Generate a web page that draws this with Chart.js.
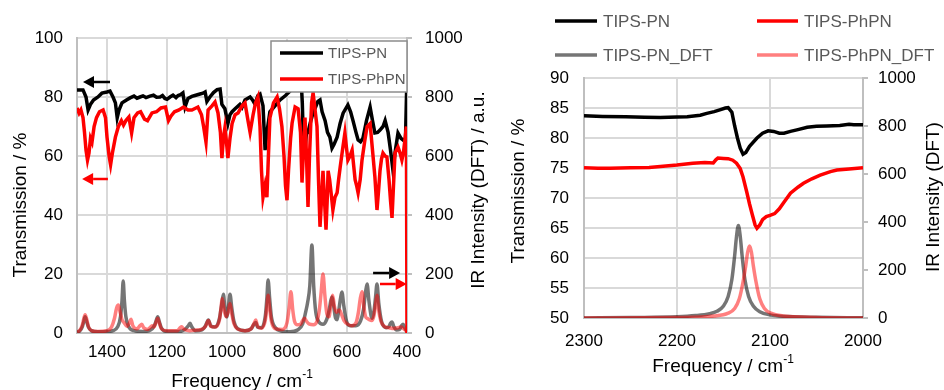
<!DOCTYPE html>
<html><head><meta charset="utf-8">
<script src="https://cdn.jsdelivr.net/npm/chart.js@4.4.0/dist/chart.umd.min.js"></script>
<style>
html,body{margin:0;padding:0;background:#fff;width:944px;height:390px;overflow:hidden}
canvas{position:absolute;top:0}
#c1{left:0}
#c2{left:490px}
</style></head><body>
<canvas id="c1" width="490" height="390"></canvas>
<canvas id="c2" width="454" height="390"></canvas>
<script>
// ---------- DATA ----------
const seriesNames = ['TIPS-PN', 'TIPS-PhPN', 'TIPS-PN_DFT', 'TIPS-PhPN_DFT'];
const leftXTicks = [1400, 1200, 1000, 800, 600, 400];
const rightXTicks = [2300, 2200, 2100, 2000];

// Left panel: experimental transmission (%), [frequency, value]
const pnLeft = [[1500,82.4],[1480,82.4],[1470,80],[1463,75.6],[1455,77.5],[1445,79],[1430,80],[1417,81.3],[1400,81.7],[1390,82],[1380,80],[1372,78],[1366,73],[1360,75.6],[1350,78],[1335,79],[1323,79.7],[1310,80.3],[1300,79.6],[1290,80],[1280,80.4],[1270,79.8],[1257,80.3],[1245,80.6],[1235,79.9],[1223,80],[1215,80.5],[1207,79.5],[1200,79.2],[1190,80],[1180,80.6],[1170,79.8],[1163,80.5],[1155,80.8],[1147,81.4],[1140,76.6],[1130,79.5],[1117,80.2],[1107,80.5],[1090,81],[1080,81.3],[1073,81.7],[1067,78.5],[1057,80],[1045,81.5],[1033,82.5],[1023,82.7],[1017,77.5],[1007,76],[997,71],[990,74],[983,75],[973,76],[957,77.5],[950,76.5],[940,79],[923,80],[915,79],[907,77.6],[897,80.5],[890,81],[880,77],[873,62],[867,68],[857,75],[840,77],[823,79],[805,80.5],[790,82],[767,85],[753,86],[749,78],[745,64],[740,62],[735,68],[730,68],[723,71],[715,74],[707,76],[697,78.5],[690,79],[683,75],[673,72],[665,68],[657,66.4],[650,62.7],[643,64],[633,66.4],[623,71],[613,74.5],[597,77.3],[588,75],[580,72],[570,68],[563,65.4],[555,64.8],[547,66],[535,72],[523,76.6],[515,72],[507,67.8],[498,68],[490,68.8],[480,70],[473,72],[463,68],[455,62],[447,55.3],[440,61],[430,67.8],[420,66],[413,65.4],[405,66],[400,88]];
const phpnLeft = [[1500,76.3],[1493,74.5],[1487,75.6],[1480,73],[1475,68],[1470,62],[1465,58.6],[1460,61],[1455,66],[1450,64.7],[1443,70],[1435,73],[1425,75],[1413,75.6],[1405,73],[1400,66.4],[1393,60],[1388,57],[1382,61],[1372,66.4],[1362,70],[1352,72],[1345,70.5],[1337,72],[1327,73.2],[1318,67.8],[1310,73],[1298,74.6],[1288,75],[1275,72.5],[1265,72],[1250,74.6],[1235,75],[1220,76.3],[1205,76.6],[1195,72],[1187,73.5],[1175,75],[1160,75.6],[1145,76.6],[1130,75.6],[1117,75.6],[1097,76.6],[1085,74],[1078,70],[1070,64.7],[1063,75.6],[1050,77],[1040,78.3],[1030,74.6],[1022,68],[1017,59.3],[1012,66],[1007,69.5],[1002,65],[997,59.3],[990,66],[983,71],[973,74],[963,74.6],[950,77],[940,78],[930,72],[923,68],[918,71],[913,74],[905,78],[897,80],[890,70],[885,55],[880,46],[873,50],[867,46],[862,60],[857,72.9],[845,78],[833,80],[825,76],[817,70],[810,60],[805,50],[800,45],[795,55],[788,66],[783,71.2],[773,76.6],[763,76],[755,68],[750,51],[745,62],[740,73],[735,60],[730,42.7],[725,60],[718,78],[713,81.4],[707,76],[700,70],[695,52],[690,36],[685,45],[680,55],[675,45],[670,35],[666,45],[663,55],[658,52],[653,47.5],[647,41.7],[640,46],[633,47.5],[628,52],[623,56],[615,62],[607,67.8],[602,63],[597,58.6],[590,60],[583,62],[578,57],[573,52],[568,50],[563,47.5],[556,52],[550,58.6],[541,65],[533,70],[523,71],[515,62],[507,52.9],[500,41.7],[495,48],[490,55],[485,59],[480,61],[473,60],[467,59.7],[460,52],[455,45],[450,39],[445,50],[440,61],[430,63],[423,61],[417,58.6],[412,61],[407,65.4],[402,70],[400,0]];

// Left panel: DFT IR intensity (a.u.), [frequency, value]
const pnDftLeft = [[1500,2],[1490,8],[1482,22],[1477,40],[1473,55],[1468,40],[1462,20],[1452,8],[1430,4],[1400,5],[1380,8],[1365,20],[1355,55],[1350,110],[1346,176],[1342,110],[1337,55],[1328,22],[1310,8],[1280,5],[1255,10],[1242,25],[1236,42],[1231,55],[1226,40],[1219,18],[1205,6],[1160,5],[1140,12],[1128,26],[1123,33],[1118,22],[1105,8],[1085,10],[1072,24],[1062,44],[1054,24],[1040,20],[1025,50],[1018,95],[1012,131],[1007,85],[1001,55],[995,90],[990,131],[984,85],[977,40],[965,15],[940,8],[920,14],[910,30],[904,36],[898,20],[885,18],[872,60],[867,120],[863,180],[858,120],[852,55],[840,20],[815,6],[790,4],[765,10],[748,30],[738,70],[731,105],[724,160],[717,298],[711,160],[704,70],[695,40],[680,30],[668,45],[660,75],[654,110],[650,122],[645,95],[638,50],[633,45],[627,80],[622,115],[617,139],[611,95],[603,45],[590,25],[570,25],[555,40],[545,80],[538,140],[533,166],[527,110],[520,60],[516,50],[510,75],[505,120],[500,166],[494,100],[485,40],[470,18],[460,22],[455,33],[450,37],[444,22],[435,10],[425,12],[418,25],[413,30],[408,18],[400,5]];
const phpnDftLeft = [[1500,3],[1490,10],[1482,28],[1477,50],[1473,62],[1468,48],[1462,22],[1452,8],[1430,5],[1400,8],[1385,20],[1375,50],[1368,85],[1362,95],[1356,70],[1350,45],[1343,35],[1333,22],[1325,35],[1320,47],[1314,25],[1300,14],[1290,25],[1284,30],[1278,18],[1265,12],[1255,20],[1250,25],[1244,20],[1236,38],[1231,50],[1226,35],[1219,15],[1200,8],[1165,8],[1156,18],[1151,21],[1145,14],[1125,8],[1100,10],[1085,12],[1072,22],[1062,42],[1054,22],[1040,20],[1025,45],[1020,85],[1016,117],[1010,80],[1003,55],[995,75],[990,100],[984,65],[977,32],[965,14],[940,8],[920,14],[910,32],[904,44],[898,22],[885,16],[872,45],[867,90],[863,128],[858,85],[852,40],[840,15],[815,12],[800,35],[793,85],[787,140],[781,80],[775,40],[765,28],[755,30],[748,42],[741,50],[735,40],[725,30],[712,28],[700,40],[692,80],[686,140],[680,200],[674,130],[667,65],[660,55],[654,95],[648,128],[642,90],[636,70],[630,75],[625,78],[619,65],[610,42],[598,30],[585,25],[570,35],[562,70],[556,115],[550,140],[544,90],[538,55],[533,50],[526,45],[518,42],[510,60],[505,95],[500,128],[494,75],[487,40],[475,22],[460,18],[445,15],[430,18],[420,20],[412,15],[400,5]];

// Right panel: experimental transmission (%)
const pnRight = [[2300,83.7],[2280,83.6],[2255,83.55],[2235,83.45],[2218,83.4],[2200,83.5],[2189,83.55],[2175,83.8],[2168,84.1],[2160,84.4],[2154,84.7],[2148,85],[2145,85.05],[2141,84.3],[2138,82],[2135,80],[2132,78.3],[2129,77.3],[2126,77.6],[2122,78.6],[2114,80],[2108,80.8],[2102,81.2],[2096,81.1],[2090,80.8],[2085,80.8],[2078,81.1],[2070,81.4],[2060,81.8],[2050,81.95],[2039,82],[2025,82.1],[2015,82.3],[2010,82.2],[2000,82.2]];
const phpnRight = [[2300,75.05],[2285,74.95],[2272,74.95],[2250,75.05],[2230,75.1],[2218,75.25],[2200,75.5],[2183,75.8],[2170,75.9],[2161,75.85],[2158,76.4],[2156,76.65],[2150,76.6],[2145,76.55],[2140,76.3],[2136,75.8],[2132,74.9],[2129,73.5],[2125,71],[2122,69],[2119,67.2],[2116,65.5],[2114,64.95],[2111,65.5],[2108,66.4],[2104,66.9],[2100,67.1],[2095,67.4],[2090,68.2],[2085,69.3],[2078,70.8],[2070,71.8],[2064,72.45],[2055,73.2],[2046,73.8],[2035,74.4],[2028,74.65],[2015,74.85],[2000,75.05]];
// Right panel: DFT IR intensity
const pnDftRight = [[2300,0],[2250,2],[2200,5],[2180,10],[2165,18],[2157,28],[2150,50],[2145,90],[2141,160],[2138,260],[2136,340],[2134,385],[2132,340],[2130,260],[2127,160],[2123,90],[2118,50],[2111,26],[2100,13],[2080,6],[2050,3],[2000,1]];
const phpnDftRight = [[2300,0],[2200,2],[2160,8],[2145,20],[2138,40],[2133,80],[2129,150],[2126,220],[2124,275],[2122,300],[2120,275],[2118,220],[2115,150],[2111,80],[2106,40],[2099,20],[2085,8],[2050,2],[2000,0]];

// ---------- STYLE ----------
const FONT = "'Liberation Sans', Arial, sans-serif";
Chart.defaults.font.family = FONT;
Chart.defaults.font.size = 17;
Chart.defaults.color = '#000';
const COLORS = ['#000000', '#ff0000', 'rgba(0,0,0,0.54)', 'rgba(255,0,0,0.5)'];
const GRID = '#d9d9d9', AXIS = '#bfbfbf';
const plain = v => String(v);

function pts(a){ return a.map(p => ({x: p[0], y: p[1]})); }

function makeDatasets(pn, phpn, pnD, phpnD){
  return [
    {label: seriesNames[0], data: pts(pn), borderColor: COLORS[0], borderWidth: 3.5, pointRadius: 0, tension: 0, yAxisID: 'y', order: 1},
    {label: seriesNames[1], data: pts(phpn), borderColor: COLORS[1], borderWidth: 3.5, pointRadius: 0, tension: 0, yAxisID: 'y', order: 0},
    {label: seriesNames[2], data: pts(pnD), borderColor: COLORS[2], borderWidth: 3.5, pointRadius: 0, cubicInterpolationMode: 'monotone', yAxisID: 'y2', order: 3},
    {label: seriesNames[3], data: pts(phpnD), borderColor: COLORS[3], borderWidth: 3.5, pointRadius: 0, cubicInterpolationMode: 'monotone', yAxisID: 'y2', order: 2}
  ];
}

const titlePlugin = {
  id: 'axisTitles',
  afterDraw(chart, args, opts){
    const ctx = chart.ctx;
    (opts.items || []).forEach(t => {
      const size = t.size || 19;
      ctx.save();
      ctx.translate(t.x, t.y);
      if (t.rot) ctx.rotate(t.rot);
      ctx.fillStyle = '#000';
      ctx.textBaseline = 'middle';
      ctx.textAlign = 'left';
      ctx.font = size + 'px ' + FONT;
      const w = ctx.measureText(t.text).width;
      let sw = 0;
      const ss = Math.round(size * 0.62);
      if (t.sup){ ctx.font = ss + 'px ' + FONT; sw = ctx.measureText(t.sup).width; }
      const x0 = -(w + sw) / 2;
      ctx.font = size + 'px ' + FONT;
      ctx.fillText(t.text, x0, 0);
      if (t.sup){ ctx.font = ss + 'px ' + FONT; ctx.fillText(t.sup, x0 + w, -size * 0.36); }
      ctx.restore();
    });
  }
};

const legendPlugin = {
  id: 'customLegend',
  afterDraw(chart, args, opts){
    const ctx = chart.ctx;
    ctx.save();
    if (opts.box){
      const b = opts.box;
      ctx.fillStyle = '#fff';
      ctx.fillRect(b.x, b.y, b.w, b.h);
      ctx.strokeStyle = '#8c8c8c';
      ctx.lineWidth = 1.5;
      ctx.strokeRect(b.x, b.y, b.w, b.h);
    }
    (opts.items || []).forEach(it => {
      const ds = chart.data.datasets[it.ds];
      ctx.strokeStyle = ds.borderColor;
      ctx.lineWidth = 3.5;
      ctx.beginPath();
      ctx.moveTo(it.x, it.y);
      ctx.lineTo(it.x + it.len, it.y);
      ctx.stroke();
      ctx.fillStyle = '#595959';
      ctx.font = (opts.size || 17) + 'px ' + FONT;
      ctx.textBaseline = 'middle';
      ctx.textAlign = 'left';
      ctx.fillText(ds.label, it.x + it.len + (opts.gap || 5), it.y + 1);
    });
    ctx.restore();
  }
};

const arrowPlugin = {
  id: 'arrows',
  afterDatasetsDraw(chart, args, opts){
    const ctx = chart.ctx, xs = chart.scales.x;
    (opts.items || []).forEach(a => {
      const ys = chart.scales[a.axis || 'y'];
      const x1 = xs.getPixelForValue(a.from), x2 = xs.getPixelForValue(a.to), y = Math.round(ys.getPixelForValue(a.y));
      const dir = Math.sign(x2 - x1), hl = 11, hw = 6;
      ctx.save();
      ctx.strokeStyle = a.color; ctx.fillStyle = a.color; ctx.lineWidth = 2.5;
      ctx.beginPath(); ctx.moveTo(x1, y); ctx.lineTo(x2 - dir * hl, y); ctx.stroke();
      ctx.beginPath(); ctx.moveTo(x2, y); ctx.lineTo(x2 - dir * hl, y - hw); ctx.lineTo(x2 - dir * hl, y + hw); ctx.closePath(); ctx.fill();
      ctx.restore();
    });
  }
};

// ---------- LEFT CHART ----------
new Chart(document.getElementById('c1'), {
  type: 'line',
  data: {datasets: makeDatasets(pnLeft, phpnLeft, pnDftLeft, phpnDftLeft)},
  options: {
    responsive: false, animation: false,
    layout: {padding: {top: 38, left: 0, right: 0, bottom: 0}},
    plugins: {
      legend: {display: false}, tooltip: {enabled: false},
      axisTitles: {items: [
        {text: 'Transmission / %', x: 21, y: 205, rot: -Math.PI / 2},
        {text: 'IR Intensity (DFT) / a.u.', x: 479, y: 190, rot: -Math.PI / 2},
        {text: 'Frequency / cm', sup: '-1', x: 242, y: 382}
      ]},
      customLegend: {box: {x: 271, y: 41, w: 136, h: 51}, size: 15, gap: 5, items: [
        {ds: 0, x: 280, y: 53, len: 43}, {ds: 1, x: 280, y: 79, len: 43}
      ]},
      arrows: {items: [
        {from: 1390, to: 1480, y: 85.1, axis: 'y', color: '#000'},
        {from: 1397, to: 1483, y: 52.2, axis: 'y', color: '#ff0000'},
        {from: 513, to: 423, y: 20.3, axis: 'y', color: '#000'},
        {from: 490, to: 401, y: 16.6, axis: 'y', color: '#ff0000'}
      ]}
    },
    scales: {
      x: {type: 'linear', reverse: true, min: 400, max: 1500,
          afterBuildTicks: s => { s.ticks = leftXTicks.map(v => ({value: v})); },
          afterFit: s => { s.height = 57; },
          grid: {color: GRID, lineWidth: 2, drawTicks: false},
          border: {color: AXIS, width: 2},
          ticks: {padding: 9, maxRotation: 0, autoSkip: false, callback: plain}},
      y: {position: 'left', min: 0, max: 100,
          afterFit: s => { s.width = 77; },
          grid: {color: GRID, lineWidth: 2, drawTicks: false},
          border: {color: AXIS, width: 2},
          ticks: {stepSize: 20, padding: 14, callback: plain}},
      y2: {position: 'right', min: 0, max: 1000,
          afterFit: s => { s.width = 83; },
          grid: {drawOnChartArea: false, drawTicks: true, tickLength: 5, color: AXIS, lineWidth: 2},
          border: {color: AXIS, width: 2},
          ticks: {stepSize: 200, padding: 13, callback: plain}}
    }
  },
  plugins: [titlePlugin, legendPlugin, arrowPlugin]
});

// ---------- RIGHT CHART ----------
new Chart(document.getElementById('c2'), {
  type: 'line',
  data: {datasets: makeDatasets(pnRight, phpnRight, pnDftRight, phpnDftRight)},
  options: {
    responsive: false, animation: false,
    layout: {padding: {top: 78, left: 0, right: 0, bottom: 0}},
    plugins: {
      legend: {display: false}, tooltip: {enabled: false},
      axisTitles: {items: [
        {text: 'Transmission / %', x: 29, y: 191, rot: -Math.PI / 2},
        {text: 'IR Intensity (DFT)', x: 444, y: 197, rot: -Math.PI / 2},
        {text: 'Frequency / cm', sup: '-1', x: 233, y: 367}
      ]},
      customLegend: {size: 17, gap: 6, items: [
        {ds: 0, x: 65, y: 21, len: 42}, {ds: 1, x: 267, y: 21, len: 41},
        {ds: 2, x: 65, y: 55, len: 42}, {ds: 3, x: 267, y: 55, len: 41}
      ]}
    },
    scales: {
      x: {type: 'linear', reverse: true, min: 2000, max: 2300,
          afterBuildTicks: s => { s.ticks = rightXTicks.map(v => ({value: v})); },
          afterFit: s => { s.height = 72; },
          grid: {color: GRID, lineWidth: 2, drawTicks: false},
          border: {color: AXIS, width: 2},
          ticks: {padding: 13, maxRotation: 0, autoSkip: false, callback: plain}},
      y: {position: 'left', min: 50, max: 90,
          afterFit: s => { s.width = 94; },
          grid: {color: GRID, lineWidth: 2, drawTicks: false},
          border: {color: AXIS, width: 2},
          ticks: {stepSize: 5, padding: 15, callback: plain}},
      y2: {position: 'right', min: 0, max: 1000,
          afterFit: s => { s.width = 81; },
          grid: {drawOnChartArea: false, drawTicks: true, tickLength: 5, color: AXIS, lineWidth: 2},
          border: {color: AXIS, width: 2},
          ticks: {stepSize: 200, padding: 10, callback: plain}}
    }
  },
  plugins: [titlePlugin, legendPlugin]
});
</script>
</body></html>
